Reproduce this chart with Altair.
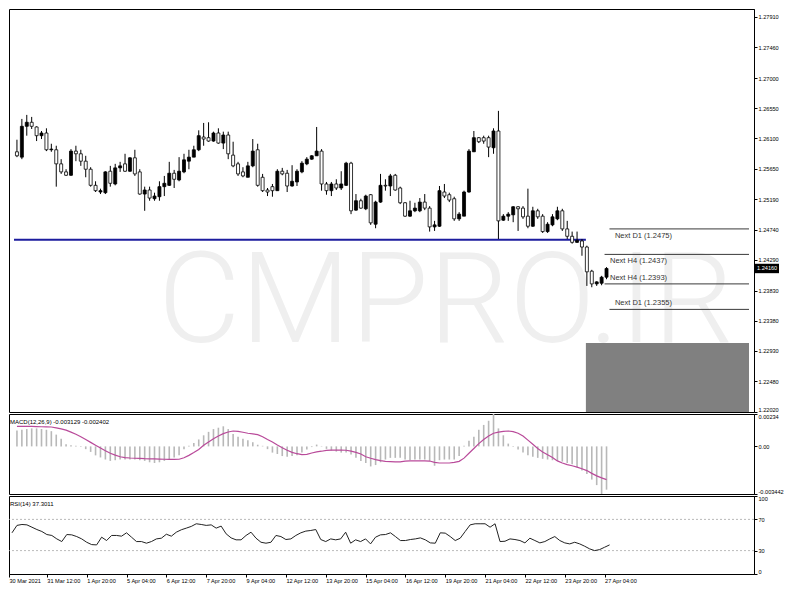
import json
import altair as alt
import pandas as pd

# ---------------- data ----------------
opens = [1.2590, 1.2582, 1.2628, 1.2634, 1.2627, 1.2614, 1.2618, 1.2593, 1.2593, 1.2572,
         1.2560, 1.2555, 1.2591, 1.2587, 1.2576, 1.2564, 1.2540, 1.2530, 1.2529, 1.2561,
         1.2542, 1.2566, 1.2572, 1.2561, 1.2581, 1.2560, 1.2527, 1.2533, 1.2520, 1.2523,
         1.2538, 1.2540, 1.2558, 1.2548, 1.2560, 1.2576, 1.2582, 1.2593, 1.2612, 1.2611,
         1.2606, 1.2618, 1.2603, 1.2615, 1.2585, 1.2572, 1.2560, 1.2552, 1.2569, 1.2593,
         1.2552, 1.2533, 1.2538, 1.2532, 1.2561, 1.2558, 1.2539, 1.2545, 1.2560, 1.2572,
         1.2579, 1.2584, 1.2591, 1.2542, 1.2532, 1.2542, 1.2536, 1.2540, 1.2573, 1.2503,
         1.2517, 1.2505, 1.2526, 1.2482, 1.2515, 1.2540, 1.2539, 1.2555, 1.2536, 1.2514,
         1.2494, 1.2502, 1.2502, 1.2515, 1.2506, 1.2478, 1.2479, 1.2530, 1.2526, 1.2520,
         1.2490, 1.2494, 1.2530, 1.2590, 1.2611, 1.2611, 1.2611, 1.2596, 1.2621, 1.2488,
         1.2494, 1.2496, 1.2508, 1.2506, 1.2494, 1.2479, 1.2502, 1.2494, 1.2471, 1.2481,
         1.2490, 1.2502, 1.2475, 1.2464, 1.2455, 1.2457, 1.2448, 1.2412, 1.2393, 1.2394, 1.2403]
highs = [1.2608, 1.2639, 1.2645, 1.2642, 1.2628, 1.2621, 1.2625, 1.2602, 1.2599, 1.2579,
         1.2564, 1.2594, 1.2599, 1.2593, 1.2584, 1.2567, 1.2546, 1.2535, 1.2561, 1.2569,
         1.2572, 1.2575, 1.2587, 1.2582, 1.2593, 1.2564, 1.2538, 1.2538, 1.2529, 1.2546,
         1.2554, 1.2575, 1.2563, 1.2582, 1.2587, 1.2593, 1.2599, 1.2622, 1.2633, 1.2634,
         1.2620, 1.2625, 1.2620, 1.2620, 1.2605, 1.2575, 1.2567, 1.2575, 1.2609, 1.2602,
         1.2557, 1.2536, 1.2542, 1.2564, 1.2566, 1.2563, 1.2570, 1.2564, 1.2576, 1.2582,
         1.2585, 1.2627, 1.2594, 1.2545, 1.2545, 1.2549, 1.2561, 1.2575, 1.2575, 1.2527,
         1.2520, 1.2526, 1.2527, 1.2517, 1.2557, 1.2549, 1.2557, 1.2557, 1.2538, 1.2515,
         1.2517, 1.2514, 1.2521, 1.2527, 1.2509, 1.2487, 1.2539, 1.2542, 1.2529, 1.2523,
         1.2500, 1.2532, 1.2594, 1.2621, 1.2612, 1.2614, 1.2614, 1.2625, 1.2651, 1.2497,
         1.2500, 1.2509, 1.2509, 1.2509, 1.2535, 1.2508, 1.2505, 1.2497, 1.2485, 1.2497,
         1.2508, 1.2505, 1.2487, 1.2471, 1.2471, 1.2460, 1.2450, 1.2414, 1.2397, 1.2405, 1.2418]
lows = [1.2582, 1.2579, 1.2614, 1.2624, 1.2606, 1.2609, 1.2591, 1.2590, 1.2538, 1.2557,
        1.2554, 1.2554, 1.2576, 1.2569, 1.2552, 1.2538, 1.2530, 1.2527, 1.2527, 1.2538,
        1.2540, 1.2560, 1.2560, 1.2560, 1.2554, 1.2526, 1.2502, 1.2517, 1.2517, 1.2517,
        1.2524, 1.2539, 1.2536, 1.2546, 1.2558, 1.2564, 1.2582, 1.2591, 1.2599, 1.2605,
        1.2605, 1.2602, 1.2594, 1.2579, 1.2567, 1.2554, 1.2552, 1.2552, 1.2567, 1.2538,
        1.2530, 1.2524, 1.2523, 1.2532, 1.2555, 1.2530, 1.2538, 1.2539, 1.2558, 1.2570,
        1.2578, 1.2584, 1.2532, 1.2526, 1.2524, 1.2533, 1.2533, 1.2539, 1.2497, 1.2502,
        1.2505, 1.2503, 1.2481, 1.2476, 1.2514, 1.2532, 1.2524, 1.2532, 1.2512, 1.2493,
        1.2493, 1.2500, 1.2500, 1.2503, 1.2471, 1.2472, 1.2478, 1.2521, 1.2515, 1.2487,
        1.2487, 1.2494, 1.2529, 1.2590, 1.2603, 1.2602, 1.2582, 1.2587, 1.2460, 1.2487,
        1.2487, 1.2485, 1.2472, 1.2490, 1.2476, 1.2478, 1.2490, 1.2469, 1.2469, 1.2479,
        1.2488, 1.2472, 1.2460, 1.2453, 1.2454, 1.2435, 1.2390, 1.2388, 1.2390, 1.2391, 1.2400]
closes = [1.2584, 1.2628, 1.2634, 1.2628, 1.2614, 1.2618, 1.2593, 1.2594, 1.2572, 1.2560,
          1.2555, 1.2591, 1.2587, 1.2576, 1.2564, 1.2540, 1.2532, 1.2532, 1.2560, 1.2543,
          1.2566, 1.2569, 1.2561, 1.2581, 1.2557, 1.2527, 1.2533, 1.2521, 1.2524, 1.2538,
          1.2543, 1.2558, 1.2549, 1.2561, 1.2578, 1.2582, 1.2593, 1.2614, 1.2609, 1.2606,
          1.2618, 1.2603, 1.2615, 1.2587, 1.2569, 1.2557, 1.2554, 1.2569, 1.2591, 1.2540,
          1.2532, 1.2530, 1.2532, 1.2561, 1.2557, 1.2539, 1.2546, 1.2561, 1.2573, 1.2579,
          1.2584, 1.2591, 1.2542, 1.2532, 1.2542, 1.2536, 1.2542, 1.2573, 1.2502, 1.2517,
          1.2506, 1.2524, 1.2484, 1.2515, 1.2540, 1.2539, 1.2554, 1.2533, 1.2514, 1.2494,
          1.2502, 1.2506, 1.2515, 1.2506, 1.2478, 1.2481, 1.2532, 1.2524, 1.2518, 1.2490,
          1.2497, 1.2530, 1.2591, 1.2611, 1.2605, 1.2606, 1.2597, 1.2621, 1.2487, 1.2494,
          1.2497, 1.2508, 1.2505, 1.2493, 1.2479, 1.2502, 1.2493, 1.2471, 1.2482, 1.2493,
          1.2502, 1.2475, 1.2464, 1.2455, 1.2458, 1.2448, 1.2411, 1.2393, 1.2396, 1.2403, 1.2416]

macd_main = [0.00115, 0.0012, 0.00125, 0.0013, 0.0013, 0.00125, 0.0012, 0.0011, 0.00085, 0.00055,
             0.00015, 0.00008, 0.00005, 0.00002, -0.0002, -0.0004, -0.00065, -0.0008, -0.00095, -0.00105,
             -0.001, -0.00095, -0.00095, -0.00095, -0.00095, -0.001, -0.00105, -0.00115, -0.0012, -0.00115,
             -0.00105, -0.00095, -0.0008, -0.00065, -0.0002, 0.00005, 0.00025, 0.0005, 0.0008, 0.00105,
             0.00125, 0.00135, 0.00145, 0.00125, 0.0009, 0.0007, 0.00055, 0.00045, 0.0003, 0.00012,
             0.00004, -0.0002, -0.00045, -0.00055, -0.0007, -0.00075, -0.0007, -0.00065, -0.00045, -0.00023,
             -0.00005, 0.00013, 0.00003, -0.00018, -0.0003, -0.00038, -0.00045, -0.00045, -0.00058, -0.00083,
             -0.00105, -0.0012, -0.00145, -0.00135, -0.00115, -0.00095, -0.00083, -0.00083, -0.00083, -0.00095,
             -0.00098, -0.00095, -0.00095, -0.00095, -0.00105, -0.0014, -0.001, -0.00095, -0.00095, -0.00095,
             -0.0007, 0.00005, 0.0004, 0.0007, 0.0012, 0.00155, 0.00185, 0.00234, 0.0013, 0.0008,
             0.0002, 0.00003, -0.00023, -0.00045, -0.00065, -0.00075, -0.00083, -0.0009, -0.00095, -0.001,
             -0.00105, -0.0011, -0.0012, -0.0013, -0.0015, -0.00175, -0.002, -0.0024, -0.0028, -0.003442, -0.003129]
macd_signal = [0.00145, 0.00145, 0.00145, 0.00144, 0.00143, 0.00142, 0.00141, 0.0014, 0.00134, 0.00127,
               0.00117, 0.00103, 0.00088, 0.0007, 0.0005, 0.00029, 0.00008, -0.00012, -0.00032, -0.0005,
               -0.00063, -0.00075, -0.00081, -0.00084, -0.00086, -0.00087, -0.00089, -0.0009, -0.00091, -0.00092,
               -0.00093, -0.00094, -0.00094, -0.00093, -0.00082, -0.00065, -0.00045, -0.00022, 0.00008, 0.00032,
               0.00055, 0.00075, 0.00092, 0.00104, 0.00111, 0.00108, 0.00102, 0.00095, 0.0009, 0.00085,
               0.0007, 0.0005, 0.00032, 0.0001, -0.0001, -0.00028, -0.00043, -0.00053, -0.0006, -0.00058,
               -0.00048, -0.0004, -0.00035, -0.00029, -0.00027, -0.00027, -0.00027, -0.00028, -0.00034, -0.00043,
               -0.00055, -0.00075, -0.00086, -0.00096, -0.00103, -0.00108, -0.0011, -0.00112, -0.00112, -0.00106,
               -0.00105, -0.00105, -0.00105, -0.00105, -0.00106, -0.00115, -0.0012, -0.0012, -0.0012, -0.00115,
               -0.00108, -0.00085, -0.0005, -0.00015, 0.0002, 0.0005, 0.00075, 0.00095, 0.00103, 0.00108,
               0.00111, 0.00107, 0.00095, 0.00075, 0.00045, 0.00015, -0.00015, -0.0004, -0.0006, -0.0008,
               -0.00105, -0.0012, -0.00132, -0.0014, -0.0015, -0.00162, -0.00175, -0.00195, -0.00213, -0.00228, -0.002402]
rsi_values = [52.8, 62.3, 63.5, 63, 60, 57, 54.5, 50.6, 49.4, 45,
              41.6, 50.6, 50.2, 48, 45, 40.7, 37.7, 37.3, 47.2, 42.9,
              49.4, 49.4, 48.5, 52.8, 47.2, 41.6, 41.6, 39.5, 41.6, 45,
              45.9, 51, 48.5, 53.6, 56.7, 58.8, 61, 64.4, 63.5, 62.3,
              63, 58.8, 61.4, 51.5, 46.3, 43.8, 43.8, 49.4, 53.6, 45.9,
              40.7, 39.5, 40.7, 49.4, 48, 44.2, 45, 49.4, 52.8, 55,
              55.8, 57, 44.2, 41.6, 45, 43.8, 45, 53.6, 39.5, 43.8,
              41.6, 45, 38.6, 47.2, 50.2, 50.6, 52.8, 48, 42.9, 42.9,
              44.2, 45, 46.3, 43.8, 39.9, 39.5, 52.8, 52.4, 48, 42.9,
              45.9, 54.5, 63, 64.4, 64.4, 64.4, 60, 64.4, 41.6, 42,
              45, 44.2, 42.9, 39.9, 45.9, 42.9, 39.9, 41.6, 45, 48,
              42.9, 39.9, 38.6, 40.7, 38.6, 35.6, 32.2, 30, 31.3, 34.3, 37.3]

price_ticks = [1.27910, 1.27460, 1.27000, 1.26550, 1.26100, 1.25650, 1.25190,
               1.24740, 1.24290, 1.23830, 1.23380, 1.22930, 1.22480, 1.22020]
macd_ticks = [0.00234, 0.0, -0.003442]
macd_tick_labels = ["0.00234", "0.00", "-0.003442"]
rsi_ticks = [0, 30, 70, 100]
rsi_levels = [30, 70]
x_tick_vals = [-0.6, 7, 15, 23, 31, 39, 47, 55, 63, 71, 79, 87, 95, 103, 111, 119]
x_tick_labels = ["30 Mar 2021", "31 Mar 12:00", "1 Apr 20:00", "5 Apr 04:00", "6 Apr 12:00",
                 "7 Apr 20:00", "9 Apr 04:00", "12 Apr 12:00", "13 Apr 20:00", "15 Apr 04:00",
                 "16 Apr 12:00", "19 Apr 20:00", "21 Apr 04:00", "22 Apr 12:00", "23 Apr 20:00",
                 "27 Apr 04:00"]

level_labels = ["Next D1 (1.2475)", "Next H4 (1.2437)", "Next H4 (1.2393)", "Next D1 (1.2355)"]
level_prices = [1.2475, 1.2437, 1.2393, 1.2355]
level_from = [120.6, 119.6, 119.6, 120.6]
level_text_at = [121.7, 120.7, 120.7, 121.7]
level_side = ["below", "below", "above", "above"]

support_price = 1.2459
support_end = 115.8
zone_start = 115.8
zone_top = 1.2305
current_price = 1.2416
macd_title = "MACD(12,26,9) -0.003129 -0.002402"
rsi_title = "RSI(14) 37.3011"
watermark_text = "CMPRO.IR"

# ---------------- layout ----------------
W = 745
H_MAIN, H_MACD, H_RSI = 403, 80, 78
X_MIN = -0.6
X_MAX = X_MIN + W / 4.98
P_MIN, P_MAX = 1.22020, 1.28029
FONT = "Liberation Sans"
AXIS_FS = 5.6

n = len(opens)
idx = list(range(n))
candles = pd.DataFrame({"i": idx, "open": opens, "high": highs, "low": lows, "close": closes})
candles["dir"] = ["up" if c > o else "down" for o, c in zip(opens, closes)]

xscale = alt.Scale(domain=[X_MIN, X_MAX], nice=False, zero=False)
pscale = alt.Scale(domain=[P_MIN, P_MAX], nice=False, zero=False)
paxis = alt.Axis(orient="right", values=price_ticks, format=".5f", tickSize=3,
                 labelPadding=1, labelFlush=True, grid=False, title=None)


def PX(field):
    return alt.X(field, type="quantitative", scale=xscale, axis=None)


def PY(field):
    return alt.Y(field, type="quantitative", scale=pscale, axis=paxis)


wm = alt.Chart(pd.DataFrame({"t": [watermark_text]})).mark_text(
    font="Roboto", fontSize=127, fontWeight=300,
    color="#efefef", align="center", baseline="middle", clip=True
).encode(x=alt.value(437), y=alt.value(295), text="t:N")

zone_df = pd.DataFrame({"x1": [zone_start], "x2": [X_MAX], "y1": [zone_top], "y2": [P_MIN]})
zone = alt.Chart(zone_df).mark_rect(color="#808080").encode(
    x=PX("x1"), x2="x2", y=PY("y1"), y2="y2")

sup_df = pd.DataFrame({"x1": [X_MIN], "x2": [support_end], "p": [support_price]})
sup = alt.Chart(sup_df).mark_rule(color="#1c1c9e", strokeWidth=2).encode(
    x=PX("x1"), x2="x2", y=PY("p"))

lv_df = pd.DataFrame({"label": level_labels, "price": level_prices, "x1": level_from,
                      "x2": [X_MAX] * len(level_prices), "tx": level_text_at, "side": level_side})
lv_lines = alt.Chart(lv_df).mark_rule(color="#3a3a3a", strokeWidth=1).encode(
    x=PX("x1"), x2="x2", y=PY("price"))
lv_below = alt.Chart(lv_df).transform_filter("datum.side == 'below'").mark_text(
    align="left", baseline="middle", dy=7, fontSize=7.5, font=FONT, color="#333333"
).encode(x=PX("tx"), y=PY("price"), text="label:N")
lv_above = alt.Chart(lv_df).transform_filter("datum.side == 'above'").mark_text(
    align="left", baseline="middle", dy=-6, fontSize=7.5, font=FONT, color="#333333"
).encode(x=PX("tx"), y=PY("price"), text="label:N")

wicks = alt.Chart(candles).mark_rule(color="black", strokeWidth=1).encode(
    x=PX("i"), y=PY("low"), y2="high")
bodies = alt.Chart(candles).mark_bar(size=3, stroke="black", strokeWidth=0.8).encode(
    x=PX("i"), y=PY("open"), y2="close",
    color=alt.Color("dir:N", scale=alt.Scale(domain=["up", "down"], range=["black", "white"]), legend=None))

cur_df = pd.DataFrame({"p": [current_price], "top": [current_price + 0.0007],
                       "bot": [current_price - 0.0007], "label": [f"{current_price:.5f}"]})
cur_box = alt.Chart(cur_df).mark_rect(color="black").encode(
    x=alt.value(W + 1), x2=alt.value(W + 25), y=PY("top"), y2="bot")
cur_txt = alt.Chart(cur_df).mark_text(color="white", fontSize=AXIS_FS, font=FONT, align="left",
                                      baseline="middle").encode(
    x=alt.value(W + 3), y=PY("p"), text="label:N")

main = alt.layer(wm, zone, sup, lv_lines, lv_below, lv_above, wicks, bodies, cur_box, cur_txt).properties(
    width=W, height=H_MAIN)

# ---------------- MACD ----------------
macd_df = pd.DataFrame({"i": idx, "macd": macd_main, "signal": macd_signal})
mscale = alt.Scale(domain=[min(macd_ticks), max(macd_ticks)], nice=False, zero=False)
maxis = alt.Axis(orient="right", values=macd_ticks,
                 labelExpr=f"{json.dumps(macd_tick_labels)}[indexof({json.dumps(macd_ticks)}, datum.value)]",
                 tickSize=3, labelPadding=1, labelFlush=True, grid=False, title=None)
hist = alt.Chart(macd_df).mark_bar(size=1.6, color="#b8b8b8").encode(
    x=alt.X("i:Q", scale=xscale, axis=None),
    y=alt.Y("macd:Q", scale=mscale, axis=maxis, stack=None),
    y2=alt.datum(0))
sig = alt.Chart(macd_df).mark_line(color="#b94a9a", strokeWidth=1.2).encode(
    x=alt.X("i:Q", scale=xscale, axis=None),
    y=alt.Y("signal:Q", scale=mscale, axis=maxis))
mtitle = alt.Chart(pd.DataFrame({"t": [macd_title]})).mark_text(
    align="left", baseline="middle", fontSize=6, font=FONT, color="black"
).encode(x=alt.value(1), y=alt.value(8), text="t:N")
macd = alt.layer(hist, sig, mtitle).properties(width=W, height=H_MACD)

# ---------------- RSI ----------------
rsi_df = pd.DataFrame({"i": idx, "rsi": rsi_values})
rscale = alt.Scale(domain=[0, 100], nice=False, zero=False)
raxis = alt.Axis(orient="right", values=rsi_ticks, tickSize=3, labelPadding=1, labelFlush=True,
                 grid=False, title=None)
xaxis = alt.Axis(values=x_tick_vals,
                 labelExpr=f"{json.dumps(x_tick_labels)}[indexof({json.dumps(x_tick_vals)}, datum.value)]",
                 labelAlign="left", labelBaseline="top", labelPadding=1, tickSize=3,
                 labelOverlap=False, labelFlush=False, grid=False, title=None)
rlev = alt.Chart(pd.DataFrame({"lvl": rsi_levels})).mark_rule(
    color="#a8a8a8", strokeDash=[2, 2], strokeWidth=0.8).encode(
    y=alt.Y("lvl:Q", scale=rscale, axis=raxis))
rline = alt.Chart(rsi_df).mark_line(color="#222222", strokeWidth=1).encode(
    x=alt.X("i:Q", scale=xscale, axis=xaxis),
    y=alt.Y("rsi:Q", scale=rscale, axis=raxis))
rtitle = alt.Chart(pd.DataFrame({"t": [rsi_title]})).mark_text(
    align="left", baseline="middle", fontSize=6, font=FONT, color="black"
).encode(x=alt.value(1), y=alt.value(8), text="t:N")
rsi = alt.layer(rlev, rline, rtitle).properties(width=W, height=H_RSI)

chart = alt.vconcat(main, macd, rsi, spacing=2, bounds="flush").properties(
    padding={"left": 0, "right": 0, "top": 0, "bottom": 0}, background="white"
).configure_view(stroke="#000000", strokeWidth=1).configure_axis(
    labelFont=FONT, labelFontSize=AXIS_FS, labelColor="#000000", tickColor="#000000",
    domainColor="#000000", tickWidth=1, domainWidth=1)

chart.save("out.html", embed_options={"renderer": "svg", "actions": False})
